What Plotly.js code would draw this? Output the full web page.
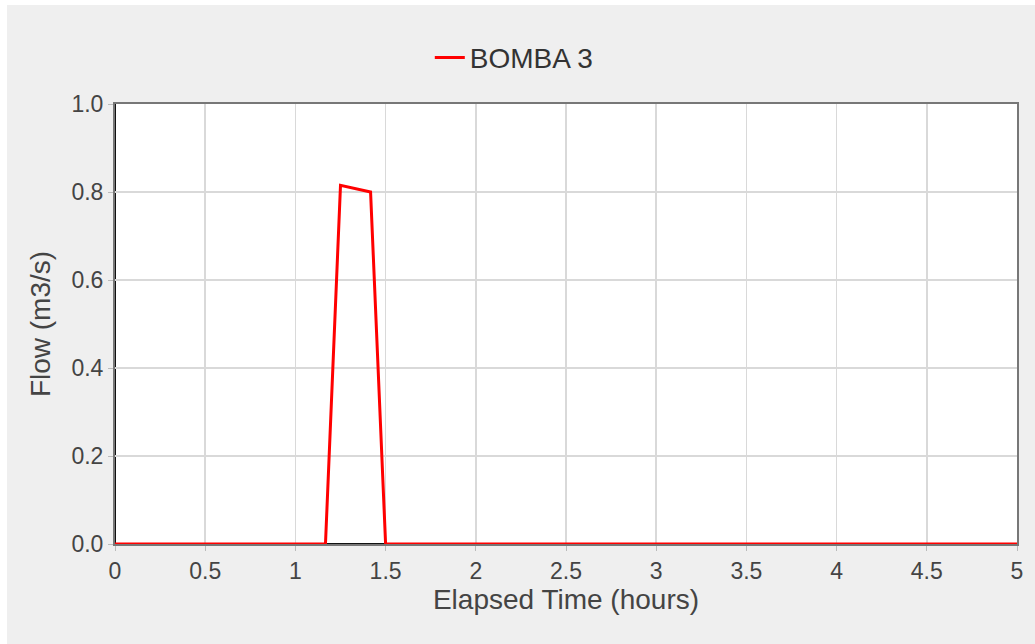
<!DOCTYPE html>
<html>
<head>
<meta charset="utf-8">
<script src="https://cdn.plot.ly/plotly-3.0.1.min.js"></script>
<style>
  html, body { margin: 0; padding: 0; background: #ffffff; }
  #chart { position: absolute; left: 7px; top: 5px; width: 1028px; height: 639px; }
</style>
</head>
<body>
<div id="chart"></div>
<script>
// Pump discharge over the simulation (hours, m3/s)
const seriesName = "BOMBA 3";
const elapsedHours = [0, 1.1667, 1.25, 1.3333, 1.4167, 1.5, 5];
const flowM3s = [0, 0, 0.815, 0.808, 0.800, 0, 0];
const xTicks = [0, 0.5, 1, 1.5, 2, 2.5, 3, 3.5, 4, 4.5, 5];
const yTicks = [0, 0.2, 0.4, 0.6, 0.8, 1.0];

const fontFamily = "Liberation Sans, Arial, sans-serif";
const tickFont = { family: fontFamily, size: 23, color: "#444444" };
const titleFont = { family: fontFamily, size: 28, color: "#444444" };

const trace = {
  x: elapsedHours,
  y: flowM3s,
  type: "scatter",
  mode: "lines",
  name: seriesName,
  line: { color: "#ff0000", width: 3 },
  showlegend: true
};

const layout = {
  width: 1028,
  height: 639,
  margin: { l: 108, r: 18, t: 99, b: 100 },
  paper_bgcolor: "#efefef",
  plot_bgcolor: "#ffffff",
  showlegend: true,
  legend: {
    orientation: "h",
    x: 0.349, xanchor: "left",
    y: 1.105, yanchor: "middle",
    font: { family: fontFamily, size: 28, color: "#333333" },
    bgcolor: "rgba(0,0,0,0)"
  },
  xaxis: {
    range: [0, 5],
    tickvals: xTicks,
    ticktext: xTicks.map(String),
    showgrid: true,
    gridcolor: "#d9d9d9",
    gridwidth: 1.5,
    zeroline: false,
    showline: true,
    mirror: true,
    linecolor: "#777777",
    linewidth: 2,
    ticks: "outside",
    ticklen: 5,
    tickcolor: "#bbbbbb",
    tickfont: tickFont,
    title: { text: "Elapsed Time (hours)", font: titleFont, standoff: 3 }
  },
  yaxis: {
    range: [0, 1.0],
    tickvals: yTicks,
    ticktext: yTicks.map(v => v.toFixed(1)),
    showgrid: true,
    gridcolor: "#d9d9d9",
    gridwidth: 1.5,
    zeroline: false,
    showline: true,
    mirror: true,
    linecolor: "#777777",
    linewidth: 2,
    ticks: "outside",
    ticklen: 5,
    tickcolor: "#bbbbbb",
    tickfont: tickFont,
    title: { text: "Flow (m3/s)", font: titleFont, standoff: 13 }
  },
  shapes: [
    { type: "line", xref: "paper", yref: "paper", x0: 0, x1: 0, y0: 0, y1: 1,
      line: { color: "#111111", width: 2 }, layer: "below" },
    { type: "line", xref: "paper", yref: "paper", x0: 0, x1: 1, y0: 0, y1: 0,
      line: { color: "#111111", width: 2 }, layer: "below" }
  ]
};

Plotly.newPlot("chart", [trace], layout, { displayModeBar: false, staticPlot: true });
</script>
</body>
</html>
